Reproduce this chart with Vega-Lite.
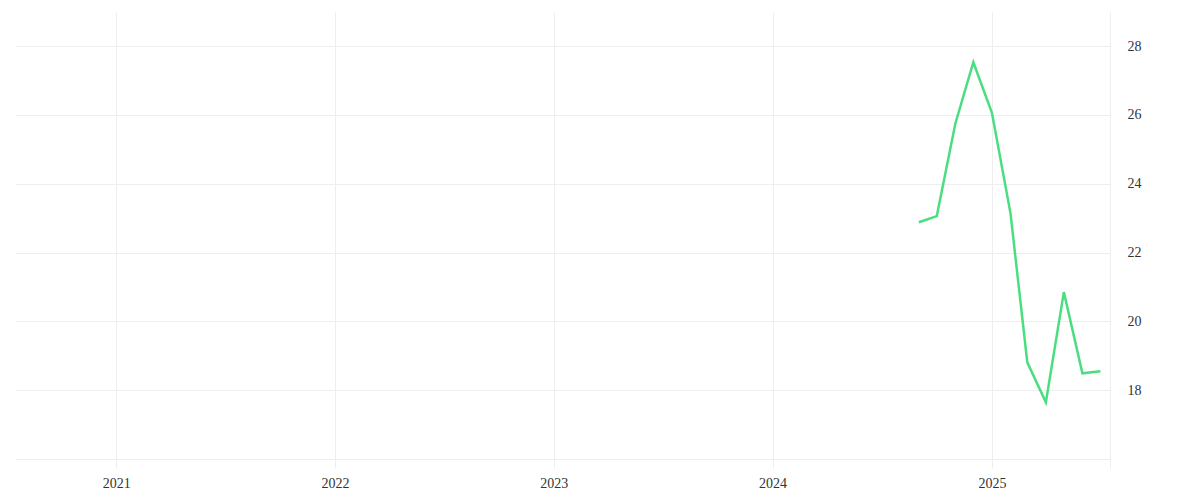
{
  "$schema": "https://vega.github.io/schema/vega-lite/v6.json",
  "width": 1095,
  "height": 456,
  "autosize": "none",
  "padding": {"left": 15, "top": 12, "right": 90, "bottom": 32},
  "background": "#ffffff",
  "config": {
    "view": {"stroke": null},
    "font": "Liberation Serif"
  },
  "data": {
    "values": [
      {"date": "2024-09-01", "value": 22.88},
      {"date": "2024-10-01", "value": 23.06},
      {"date": "2024-11-01", "value": 25.75},
      {"date": "2024-12-01", "value": 27.53},
      {"date": "2025-01-01", "value": 26.06},
      {"date": "2025-02-01", "value": 23.14},
      {"date": "2025-03-01", "value": 18.81},
      {"date": "2025-04-01", "value": 17.65},
      {"date": "2025-05-01", "value": 20.85},
      {"date": "2025-06-01", "value": 18.49},
      {"date": "2025-07-01", "value": 18.55}
    ]
  },
  "mark": {"type": "line", "color": "#4ade80", "strokeWidth": 2.5, "interpolate": "linear"},
  "encoding": {
    "x": {
      "field": "date",
      "type": "temporal",
      "scale": {"domain": ["2020-07-16", "2025-07-17"], "nice": false},
      "axis": {
        "title": null,
        "values": [{"year": 2021, "month": 1, "date": 1}, {"year": 2022, "month": 1, "date": 1}, {"year": 2023, "month": 1, "date": 1}, {"year": 2024, "month": 1, "date": 1}, {"year": 2025, "month": 1, "date": 1}],
        "format": "%Y",
        "domain": false,
        "ticks": false,
        "grid": true,
        "gridColor": "#eeeeee",
        "gridWidth": 1,
        "labelFont": "Liberation Serif",
        "labelFontSize": 14,
        "labelColor": "#333333",
        "labelPadding": 8
      }
    },
    "y": {
      "field": "value",
      "type": "quantitative",
      "scale": {"domain": [15.74, 28.99], "nice": false, "zero": false},
      "axis": {
        "title": null,
        "orient": "right",
        "values": [16, 18, 20, 22, 24, 26, 28],
        "labelExpr": "datum.value == 16 ? '' : datum.label",
        "domain": true,
        "domainColor": "#eeeeee",
        "ticks": false,
        "grid": true,
        "gridColor": "#eeeeee",
        "gridWidth": 1,
        "labelFont": "Liberation Serif",
        "labelFontSize": 14,
        "labelColor": "#333333",
        "labelPadding": 17
      }
    }
  }
}
